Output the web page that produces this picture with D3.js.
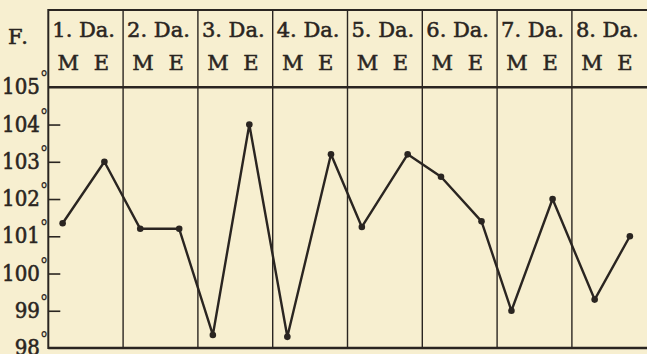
<!DOCTYPE html>
<html>
<head>
<meta charset="utf-8">
<script src="https://cdn.jsdelivr.net/npm/d3@7"></script>
<style>
  html, body { margin: 0; padding: 0; background: #f7efd0; }
  svg { display: block; }
  text { font-family: "DejaVu Serif", serif; fill: #2a2521; stroke: #2a2521; stroke-width: 0.55; }
  text.tick-label { font-family: "DejaVu Serif Condensed", "DejaVu Serif", serif; }
</style>
</head>
<body>
<svg id="chart" width="647" height="354"></svg>
<script>
// Eight days of temperature readings, morning (M) and evening (E)
const days = ["1. Da.", "2. Da.", "3. Da.", "4. Da.", "5. Da.", "6. Da.", "7. Da.", "8. Da."];
const periods = ["M", "E"];
// hour of day at which each reading was taken
const morningHours = [4.6, 5.5, 4.8, 4.7, 4.6, 6.0, 4.6, 7.3];
const eveningHours = [18.0, 18.0, 16.5, 18.7, 19.3, 19.0, 17.8, 18.6];
// temperature in degrees Fahrenheit
const morningTemps = [101.35, 101.2, 98.35, 98.3, 101.25, 102.6, 99.0, 99.3];
const eveningTemps = [103.0, 101.2, 104.0, 103.2, 103.2, 101.4, 102.0, 101.0];
const tempTicks = [98, 99, 100, 101, 102, 103, 104, 105];
const unitLabel = "F.";

const ink = "#2a2521";
const svg = d3.select("#chart");

const frameLeft = 48.3, frameRight = 646.7, frameTop = 10, headerBottom = 87.3, frameBottom = 348;

const x = d3.scaleLinear().domain([0, days.length]).range([frameLeft, frameRight]);
const y = d3.scaleLinear().domain([98, 105]).range([frameBottom, headerBottom]);

// readings in chronological order
const readings = [];
days.forEach((d, i) => {
  readings.push({ t: i + morningHours[i] / 24, v: morningTemps[i] });
  readings.push({ t: i + eveningHours[i] / 24, v: eveningTemps[i] });
});

// frame: top rule, header rule, bottom rule, left border
svg.append("line")
  .attr("x1", frameLeft).attr("x2", 647).attr("y1", frameTop).attr("y2", frameTop)
  .attr("stroke", ink).attr("stroke-width", 2);
svg.append("line")
  .attr("x1", frameLeft).attr("x2", 647).attr("y1", headerBottom).attr("y2", headerBottom)
  .attr("stroke", ink).attr("stroke-width", 2.6);
svg.append("line")
  .attr("x1", frameLeft).attr("x2", 647).attr("y1", frameBottom).attr("y2", frameBottom)
  .attr("stroke", ink).attr("stroke-width", 2.6);
svg.append("line")
  .attr("x1", frameLeft).attr("x2", frameLeft).attr("y1", frameTop - 1).attr("y2", frameBottom + 1)
  .attr("stroke", ink).attr("stroke-width", 2);

// day dividers
svg.append("g").selectAll("line")
  .data(d3.range(1, days.length))
  .join("line")
  .attr("x1", d => x(d)).attr("x2", d => x(d))
  .attr("y1", frameTop).attr("y2", frameBottom)
  .attr("stroke", ink).attr("stroke-width", 1.4);

// header: day names and M / E
const header = svg.append("g").selectAll("g")
  .data(days)
  .join("g")
  .attr("transform", (d, i) => `translate(${x(i)},0)`);
header.append("text")
  .attr("x", 4).attr("y", 37)
  .attr("font-size", 21)
  .text(d => d);
header.selectAll("text.period")
  .data(periods)
  .join("text")
  .attr("class", "period")
  .attr("x", (p, j) => j === 0 ? 20 : 53)
  .attr("y", 70)
  .attr("text-anchor", "middle")
  .attr("font-size", 21)
  .text(p => p);

svg.append("text")
  .attr("x", 8).attr("y", 44)
  .attr("font-size", 21)
  .attr("letter-spacing", 2)
  .text(unitLabel);

// temperature axis: short inner ticks and degree labels
const axis = d3.axisRight(y)
  .tickValues(tempTicks.filter(t => t > 98 && t < 105))
  .tickSize(12)
  .tickFormat("");
svg.append("g")
  .attr("transform", `translate(${frameLeft},0)`)
  .call(axis)
  .call(g => g.select(".domain").remove())
  .call(g => g.selectAll("line").attr("stroke", ink).attr("stroke-width", 1.6));

const labels = svg.append("g").selectAll("text")
  .data(tempTicks)
  .join("text")
  .attr("class", "tick-label")
  .attr("x", 48)
  .attr("y", d => y(d) + 7)
  .attr("text-anchor", "end")
  .attr("font-size", 22);
labels.append("tspan").text(d => d);
labels.append("tspan")
  .attr("font-size", 18)
  .attr("dy", -10)
  .attr("stroke-width", 0.15)
  .text("°");

// temperature curve
svg.append("path")
  .datum(readings)
  .attr("fill", "none")
  .attr("stroke", ink)
  .attr("stroke-width", 2.4)
  .attr("stroke-linejoin", "round")
  .attr("d", d3.line().x(d => x(d.t)).y(d => y(d.v)));

svg.append("g").selectAll("circle")
  .data(readings)
  .join("circle")
  .attr("cx", d => x(d.t))
  .attr("cy", d => y(d.v))
  .attr("r", 3.3)
  .attr("fill", ink);
</script>
</body>
</html>
